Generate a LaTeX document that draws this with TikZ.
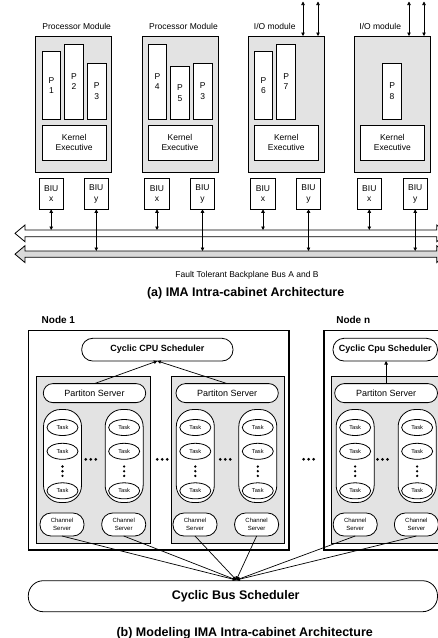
\documentclass[tikz,border=0pt]{standalone}
\usepackage{fontspec}
\setmainfont{Liberation Sans}
\usetikzlibrary{arrows.meta,shapes.geometric}
\begin{document}
\begin{tikzpicture}[x=1pt,y=-1pt,
  every node/.style={inner sep=0pt, outer sep=0pt},
  module/.style={draw, line width=0.9pt, fill=gray!22},
  wbox/.style={draw, line width=0.8pt, fill=white, align=center, font=\fontsize{8.5}{10.5}\selectfont},
  lbl/.style={font=\fontsize{8.5}{10}\selectfont},
  ttl/.style={font=\fontsize{12.5}{14}\selectfont\bfseries},
  tipa/.style={-{Triangle[length=3.5pt,width=3.5pt]}},
  dtip/.style={{Triangle[length=3.5pt,width=3.5pt]}-{Triangle[length=3.5pt,width=3.5pt]}},
  nodebox/.style={draw, line width=1.1pt},
  group/.style={draw, line width=0.8pt, fill=gray!22},
  rbox/.style={draw, line width=0.8pt, fill=white, align=center},
  sched/.style={rbox, rounded corners=11pt, font=\fontsize{9}{10}\selectfont\bfseries, minimum height=22.7pt},
  pserv/.style={rbox, rounded corners=9.5pt, font=\fontsize{9}{10}\selectfont, minimum height=19pt},
  col/.style={rbox, rounded corners=17pt, minimum width=38pt, minimum height=93pt},
  task/.style={draw, line width=0.8pt, fill=white, ellipse, minimum width=31pt, minimum height=16pt, font=\fontsize{5.7}{6.5}\selectfont},
  cserv/.style={rbox, rounded corners=11pt, minimum width=44pt, minimum height=23pt, font=\fontsize{6}{7.6}\selectfont},
  conn/.style={line width=0.7pt}
]
\useasboundingbox (0,0) rectangle (438,638);
\clip (0,0) rectangle (438,638);

% ---------------- part (a) ----------------
% bus arrows
\path[draw, line width=0.8pt, fill=white]
  (25,230) -- (25,225) -- (15,233.35) -- (25,241.7) -- (25,236.7)
  -- (436.7,236.7) -- (436.7,241.7) -- (446.7,233.35) -- (436.7,225) -- (436.7,230) -- cycle;
\path[draw, line width=0.8pt, fill=gray!30]
  (25,251) -- (25,245.7) -- (15,254.15) -- (25,262.6) -- (25,257.3)
  -- (436.7,257.3) -- (436.7,262.6) -- (446.7,254.15) -- (436.7,245.7) -- (436.7,251) -- cycle;

% modules
\node[module, minimum width=76pt, minimum height=136.7pt] (m1) at (73.9,104.35) {};
\node[module, minimum width=76pt, minimum height=136.7pt] (m2) at (180.15,104.35) {};
\node[module, minimum width=76pt, minimum height=136.7pt] (m3) at (286.3,104.35) {};
\node[module, minimum width=76pt, minimum height=136.7pt] (m4) at (392.4,104.35) {};

\node[lbl] (l1) at (76.7,26) {Processor Module};
\node[lbl] (l2) at (183.5,26) {Processor Module};
\node[lbl] (l3) at (274.7,26) {I/O module};
\node[lbl] (l4) at (380.2,26) {I/O module};

% partitions
\node[wbox, minimum width=18.5pt, minimum height=67.6pt] (p1) at (51.5,85.5) {P\\1};
\node[wbox, minimum width=18.5pt, minimum height=75.3pt] (p2) at (74,81.65) {P\\2};
\node[wbox, minimum width=18.5pt, minimum height=56pt] (p3a) at (96.65,91.3) {P\\3};
\node[wbox, minimum width=18.5pt, minimum height=75.3pt] (p4) at (157.35,81.65) {P\\4};
\node[wbox, minimum width=18.5pt, minimum height=52.6pt] (p5) at (180,93) {P\\5};
\node[wbox, minimum width=18.5pt, minimum height=56pt] (p3b) at (202.65,91.3) {P\\3};
\node[wbox, minimum width=18.5pt, minimum height=67.6pt] (p6) at (263.5,85.5) {P\\6};
\node[wbox, minimum width=18.5pt, minimum height=75.3pt] (p7) at (286.1,81.65) {P\\7};
\node[wbox, minimum width=18.5pt, minimum height=56pt] (p8) at (392.1,91.3) {P\\8};

% kernels
\node[wbox, minimum width=64pt, minimum height=35pt] (k1) at (74.15,142.5) {Kernel\\Executive};
\node[wbox, minimum width=64pt, minimum height=35pt] (k2) at (180,142.5) {Kernel\\Executive};
\node[wbox, minimum width=64pt, minimum height=35pt] (k3) at (286.3,142.5) {Kernel\\Executive};
\node[wbox, minimum width=64pt, minimum height=35pt] (k4) at (392.35,142.5) {Kernel\\Executive};

% BIUs
\node[wbox, minimum width=24.3pt, minimum height=31pt] (bx1) at (51.2,193.8) {BIU\\x};
\node[wbox, minimum width=24.3pt, minimum height=31pt] (by1) at (96.3,193.8) {BIU\\y};
\node[wbox, minimum width=24.3pt, minimum height=31pt] (bx2) at (157,193.8) {BIU\\x};
\node[wbox, minimum width=24.3pt, minimum height=31pt] (by2) at (202.5,193.8) {BIU\\y};
\node[wbox, minimum width=24.3pt, minimum height=31pt] (bx3) at (263,193.8) {BIU\\x};
\node[wbox, minimum width=24.3pt, minimum height=31pt] (by3) at (308.5,193.8) {BIU\\y};
\node[wbox, minimum width=24.3pt, minimum height=31pt] (bx4) at (369.3,193.8) {BIU\\x};
\node[wbox, minimum width=24.3pt, minimum height=31pt] (by4) at (415.2,193.8) {BIU\\y};

% bus attachment points
\foreach \i/\xa/\ya in {1/51.2/96.3, 2/157/202.5, 3/263/308.5, 4/369.3/415.2}{
  \coordinate (ba\i) at (\xa,230);
  \coordinate (bb\i) at (\ya,251);
}
\foreach \i in {1,2,3,4}{
  \draw[dtip, conn] (bx\i.south) -- (ba\i);
  \draw[dtip, conn] (by\i.south) -- (bb\i);
}

% I/O arrows
\coordinate (io3a) at (303,1.5);
\coordinate (io3b) at (318,1.5);
\coordinate (io4a) at (409,1.5);
\coordinate (io4b) at (424,1.5);
\draw[dtip, conn] (io3a) -- (io3a |- m3.north);
\draw[dtip, conn] (io3b) -- (io3b |- m3.north);
\draw[dtip, conn] (io4a) -- (io4a |- m4.north);
\draw[dtip, conn] (io4b) -- (io4b |- m4.north);

\node[lbl] (bustxt) at (247,275) {Fault Tolerant Backplane Bus A and B};
\node[ttl] (ta) at (245.7,293.3) {(a) IMA Intra-cabinet Architecture};

% ---------------- part (b) ----------------
\node[nodebox, minimum width=260.7pt, minimum height=219.3pt] (n1) at (158.65,440.35) {};
\node[nodebox, minimum width=128pt, minimum height=219.3pt] (nn) at (388,440.35) {};
\node[anchor=west, font=\fontsize{10}{12}\selectfont\bfseries] (n1l) at (41.7,320) {Node 1};
\node[anchor=west, font=\fontsize{10}{12}\selectfont\bfseries] (nnl) at (336.3,320) {Node n};

\node[sched, minimum width=151.3pt] (cpu1) at (157.35,349.65) {Cyclic CPU Scheduler};
\node[sched, minimum width=104.5pt] (cpun) at (385.25,349.65) {Cyclic Cpu Scheduler};

\node[group, minimum width=114pt, minimum height=167pt] (g1) at (93,459.5) {};
\node[group, minimum width=112.3pt, minimum height=167pt] (g2) at (227.85,459.5) {};
\node[group, minimum width=120.7pt, minimum height=167pt] (gn) at (391.65,459.5) {};

\node[pserv, minimum width=102.4pt] (ps1) at (94.5,393.1) {Partiton Server};
\node[pserv, minimum width=102.3pt] (ps2) at (227.15,393.1) {Partiton Server};
\node[pserv, minimum width=102.8pt] (psn) at (386.1,393.1) {Partiton Server};

\draw[tipa, conn] (ps1.north) -- (cpu1.south);
\draw[tipa, conn] (ps2.north) -- (cpu1.south);
\draw[tipa, conn] (psn.north) -- (psn.north |- cpun.south);

% task columns
\foreach \i/\cx in {1/62.5, 2/124.15, 3/195.3, 4/257.8, 5/355.15, 6/417.15}{
  \node[col] (c\i) at (\cx,456) {};
  \node[task] (t\i a) at (\cx,427.5) {Task};
  \node[task] (t\i b) at (\cx,451.3) {Task};
  \node[task] (t\i c) at (\cx,490.8) {Task};
  \foreach \yy in {466.5,471.2,475.9}{
    \fill (\cx,\yy) circle (1.3pt);
  }
}

% horizontal ellipsis dots
\foreach \hx in {90.8, 162.2, 225.3, 308.6, 382.5}{
  \foreach \dx in {-5,0,5}{
    \fill (\hx+\dx,459.3) circle (1.5pt);
  }
}

% channel servers
\node[cserv] (cs1) at (62,524.5) {Channel\\Server};
\node[cserv] (cs2) at (123.7,524.5) {Channel\\Server};
\node[cserv] (cs3) at (195,524.5) {Channel\\Server};
\node[cserv] (cs4) at (256.6,524.5) {Channel\\Server};
\node[cserv] (cs5) at (355.2,524.5) {Channel\\Server};
\node[cserv] (cs6) at (416.4,524.5) {Channel\\Server};

% bus scheduler
\node[rbox, rounded corners=15pt, minimum width=409.2pt, minimum height=31pt] (bus) at (232.9,596.2) {};
\node[font=\fontsize{12.5}{14}\selectfont\bfseries] (bustitle) at (235.7,596.2) {Cyclic Bus Scheduler};
\coordinate (busin) at (236.3,580);
\foreach \i in {1,...,6}{
  \draw[tipa, conn] (cs\i.south) -- (busin);
}

\node[ttl] (tb) at (244.7,633.3) {(b) Modeling IMA Intra-cabinet Architecture};
\end{tikzpicture}
\end{document}
